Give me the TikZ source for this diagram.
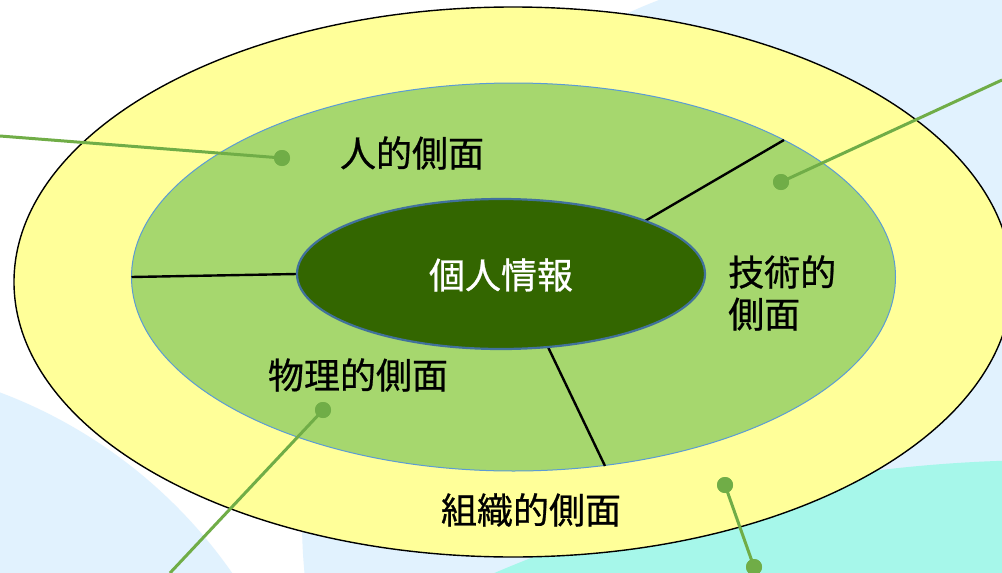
\documentclass[tikz,border=0pt]{standalone}
\usepackage{fontspec}
\newfontfamily\jp{Noto Sans CJK JP}[FakeBold=0.7]
\definecolor{bgblue}{RGB}{225,242,254}
\definecolor{bgmint}{RGB}{166,247,234}
\definecolor{ringyellow}{RGB}{255,255,153}
\definecolor{ringgreen}{RGB}{166,215,110}
\definecolor{coregreen}{RGB}{51,102,0}
\definecolor{midborder}{RGB}{91,155,213}
\definecolor{coreborder}{RGB}{65,113,156}
\definecolor{cgreen}{RGB}{112,173,71}
\begin{document}
\begin{tikzpicture}[x=1pt,y=-1pt,
  divider/.style={line width=2.4pt,draw=black},
  conn/.style={line width=3pt,draw=cgreen},
  dot/.style={circle,fill=cgreen,minimum size=16pt,inner sep=0pt},
  lbl/.style={font=\jp\fontsize{36}{42}\selectfont,inner sep=0pt,text=black},
]
\useasboundingbox (0,0) rectangle (1002,573);
\clip (0,0) rectangle (1002,573);
\fill[white] (0,0) rectangle (1002,573);
% background shapes
\fill[bgblue] (859,520) circle[radius=557];
\fill[bgblue] (-174,856) circle[radius=495];
\fill[bgmint] (1050,1878) circle[radius=1418];
% rings
\draw[fill=ringyellow,line width=1.4pt,draw=black] (513,282) ellipse[x radius=499,y radius=275];
\draw[fill=ringgreen,line width=1pt,draw=midborder] (513.5,277) ellipse[x radius=382,y radius=194];
% dividers
\coordinate (mL) at (131.5,277);
\coordinate (iL) at (297,274);
\coordinate (iUR) at (645,221);
\coordinate (mUR) at (784,140);
\coordinate (iB) at (548,347);
\coordinate (mB) at (605,466);
\draw[divider] (mL) -- (iL);
\draw[divider] (iUR) -- (mUR);
\draw[divider] (iB) -- (mB);
\draw[fill=coregreen,line width=2.2pt,draw=coreborder] (501,274) ellipse[x radius=204,y radius=75];
% labels
\node[lbl,text=white] (core) at (501,275) {個人情報};
\node[lbl] (human) at (412,153) {人的側面};
\node[lbl,anchor=west,align=left] (tech) at (728,293) {技術的\\側面};
\node[lbl] (phys) at (358,375) {物理的側面};
\node[lbl] (org) at (531,510) {組織的側面};
% connectors
\coordinate (e1) at (0,136);
\coordinate (e2) at (1002,80);
\coordinate (e3) at (170,573);
\node[dot] (d1) at (282,158) {};
\node[dot] (d2) at (781,182) {};
\node[dot] (d3) at (323,410) {};
\node[dot] (d4) at (725,485) {};
\node[dot] (d5) at (754,567) {};
\draw[conn] (e1) -- (d1.center);
\draw[conn] (e2) -- (d2.center);
\draw[conn] (e3) -- (d3.center);
\draw[conn] (d4.center) -- (d5.center);
\node[dot] at (d1) {};
\node[dot] at (d2) {};
\node[dot] at (d3) {};
\node[dot] at (d4) {};
\node[dot] at (d5) {};
\end{tikzpicture}
\end{document}
